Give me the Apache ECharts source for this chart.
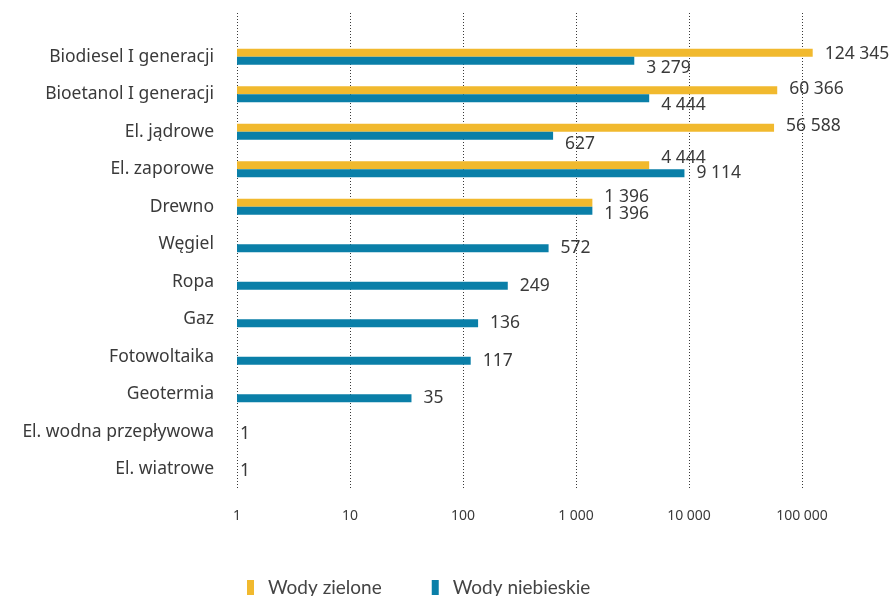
<!DOCTYPE html>
<html>
<head>
<meta charset="utf-8">
<script src="https://cdn.jsdelivr.net/npm/echarts@6/dist/echarts.min.js"></script>
<style>
  html, body { margin: 0; padding: 0; background: #ffffff; }
  #chart { width: 893px; height: 596px; }
</style>
</head>
<body>
<div id="chart"></div>
<script>
// Water footprint by energy source (log scale)
const categories = [
  'Biodiesel I generacji',
  'Bioetanol I generacji',
  'El. jądrowe',
  'El. zaporowe',
  'Drewno',
  'Węgiel',
  'Ropa',
  'Gaz',
  'Fotowoltaika',
  'Geotermia',
  'El. wodna przepływowa',
  'El. wiatrowe'
];
const greenWater = [124345, 60366, 56588, 4444, 1396, null, null, null, null, null, null, null];
const blueWater = [3279, 4444, 627, 9114, 1396, 572, 249, 136, 117, 35, 1, 1];
const tickValues = [1, 10, 100, 1000, 10000, 100000];
const seriesNames = ['Wody zielone', 'Wody niebieskie'];

// small label nudges [dx, dy] so neighbouring value labels don't collide
const greenNudge = [[0, 1], [0, -1], [0, -2], [0, -7], [0, -6], null, null, null, null, null, null, null];
const blueNudge = [[0, 7], [0, 7], [0, 8], [0, 0], [0, 3], [0, 0], [0, 0], [0, 0], [0, 0], [0, 0], [-9, -2], [-9, -2]];

const YELLOW = '#f1b92e';
const BLUE = '#0a7fa8';
const TEXT = '#3a3a3a';

function spaced(v) {
  return String(v).replace(/\B(?=(\d{3})+(?!\d))/g, ' ');
}

function items(values, nudges) {
  return values.map((v, i) => {
    if (v == null) return '-';
    const n = nudges[i] || [0, 0];
    return { value: v, label: { offset: n } };
  });
}

const chart = echarts.init(document.getElementById('chart'), null, { renderer: 'canvas' });

const valueLabel = {
  show: true,
  position: 'right',
  distance: 12,
  color: TEXT,
  fontFamily: 'Noto Sans',
  fontSize: 17.5,
  formatter: p => spaced(p.value)
};

// one decade = 113 px; the axis runs to 10^6, just past the right edge
const PLOT_LEFT = 237;
const PLOT_WIDTH = 678;

chart.setOption({
  animation: false,
  backgroundColor: '#ffffff',
  grid: [
    // frame for the dotted decade lines
    { left: PLOT_LEFT, width: PLOT_WIDTH, top: 13, bottom: 108, containLabel: false, outerBoundsMode: 'none' },
    // bars
    { left: PLOT_LEFT, width: PLOT_WIDTH, top: 38, bottom: 108, containLabel: false, outerBoundsMode: 'none' }
  ],
  legend: {
    data: seriesNames,
    left: 242,
    top: 573,
    icon: 'rect',
    itemWidth: 7,
    itemHeight: 15,
    itemGap: 50,
    textStyle: {
      fontFamily: 'Lato',
      fontSize: 19,
      color: '#444444',
      padding: [0, 0, 0, 9]
    }
  },
  xAxis: [
    {
      type: 'log',
      gridIndex: 0,
      min: 1,
      max: 1000000,
      logBase: 10,
      axisLine: { show: false },
      axisTick: { show: false },
      splitLine: {
        show: true,
        lineStyle: { color: '#3a3a3a', width: 1, type: [1, 2] }
      },
      axisLabel: {
        margin: 21,
        color: TEXT,
        fontFamily: 'Noto Sans',
        fontSize: 14,
        showMaxLabel: false,
        formatter: v => (tickValues.indexOf(Math.round(v)) >= 0 ? spaced(Math.round(v)) : '')
      }
    },
    {
      type: 'log',
      gridIndex: 1,
      min: 1,
      max: 1000000,
      logBase: 10,
      show: false
    }
  ],
  yAxis: [
    { type: 'value', gridIndex: 0, show: false },
    {
      type: 'category',
      gridIndex: 1,
      data: categories,
      inverse: true,
      axisLine: { show: false },
      axisTick: { show: false },
      splitLine: { show: false },
      axisLabel: {
        margin: 23,
        color: TEXT,
        fontFamily: 'Noto Sans',
        fontSize: 17.5
      }
    }
  ],
  series: [
    {
      name: seriesNames[0],
      type: 'bar',
      xAxisIndex: 1,
      yAxisIndex: 1,
      barWidth: 8,
      barGap: '0%',
      itemStyle: { color: YELLOW },
      label: valueLabel,
      data: items(greenWater, greenNudge)
    },
    {
      name: seriesNames[1],
      type: 'bar',
      xAxisIndex: 1,
      yAxisIndex: 1,
      barWidth: 8,
      barGap: '0%',
      itemStyle: { color: BLUE },
      label: valueLabel,
      data: items(blueWater, blueNudge)
    }
  ]
});
</script>
</body>
</html>
